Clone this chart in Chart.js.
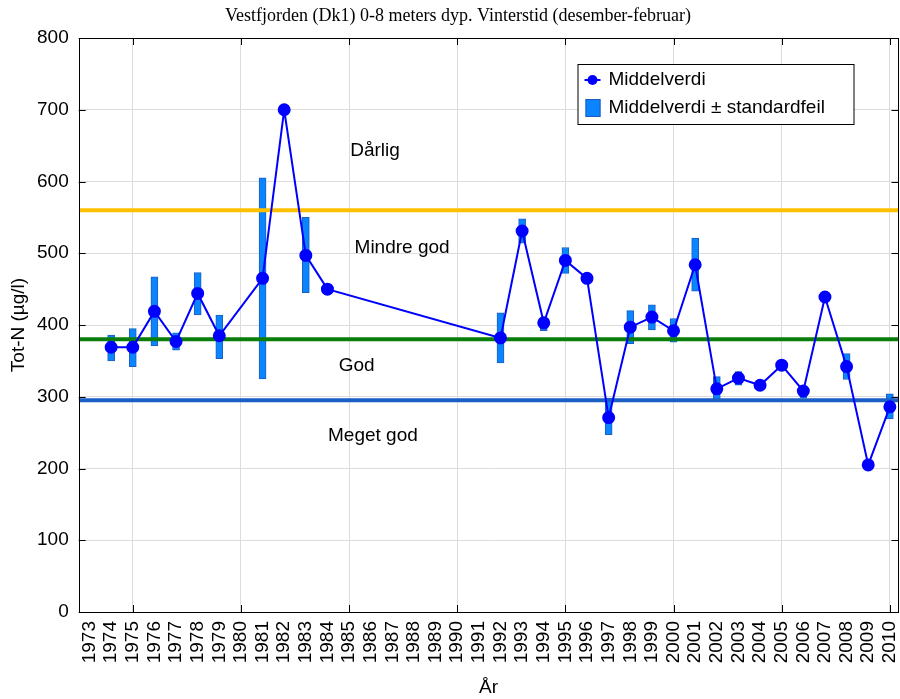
<!DOCTYPE html>
<html lang="no">
<head>
    <meta charset="UTF-8" />
    <title>Vestfjorden Tot-N</title>
    <script src="https://cdn.jsdelivr.net/npm/chart.js"></script>
    <style>
        body { margin: 0; padding: 0; background: #fff; overflow: hidden; }
        #wrap { width: 900px; height: 699px; overflow: hidden; }
    </style>
</head>
<body>
    <!-- lerretet er litt bredere enn vinduet: Chart.js holder av plass til siste årstall til høyre -->
    <div id="wrap"><canvas id="totN" width="906" height="699"></canvas></div>

    <script>
        // Vinterverdier (desember-februar) for Tot-N, Vestfjorden Dk1, 0-8 m
        const years   = [1974, 1975, 1976, 1977, 1978, 1979, 1981, 1982, 1983, 1984,
                         1992, 1993, 1994, 1995, 1996, 1997, 1998, 1999, 2000, 2001,
                         2002, 2003, 2004, 2005, 2006, 2007, 2008, 2009, 2010];
        const means   = [369, 369, 419, 377, 444, 385, 465, 700, 497, 450,
                         382, 531, 403, 490, 465, 271, 397, 411, 392, 484,
                         311, 326, 316, 344, 308, 439, 342, 205, 286];
        const seLow   = [350, 342, 371, 365, 414, 353, 325, null, 445, null,
                         347, 514, 392, 472, null, 247, 374, 393, 376, 447,
                         294, 316, null, null, 298, null, 324, null, 269];
        const seHigh  = [386, 395, 467, 389, 473, 414, 605, null, 550, null,
                         417, 548, 410, 508, null, 298, 420, 428, 409, 521,
                         328, 335, null, null, 314, null, 360, null, 304];

        // Klassegrenser
        const limitNames  = ['Dårlig/Mindre god', 'Mindre god/God', 'God/Meget god'];
        const limitValues = [560, 380, 295];
        const limitColors = ['#ffc000', '#0a7d0a', '#1b5ec4'];

        // Tilstandsklasser, plassert i dataenheter (år, µg/l)
        const zoneNames = ['Dårlig', 'Mindre god', 'God', 'Meget god'];
        const zoneX     = [1986.2, 1987.45, 1985.35, 1986.1];
        const zoneY     = [643, 507, 343, 245];

        const yearTicks = [];
        for (let y = 1973; y <= 2010; y++) yearTicks.push(y);

        const xMin = 1972.5, xMax = 2010.4;
        const FONT = 'Liberation Sans, Arial, sans-serif';

        const errorBars = [];
        years.forEach((yr, i) => {
            if (seLow[i] !== null) errorBars.push({ x: yr, y: [seLow[i], seHigh[i]] });
        });

        const limitSets = limitValues.map((v, i) => ({
            type: 'line',
            label: limitNames[i],
            data: [{ x: xMin, y: v }, { x: xMax, y: v }],
            borderColor: limitColors[i],
            borderWidth: 4,
            pointRadius: 0,
            order: 2
        }));

        // tittel, ramme med innovervendte tick-streker, klassetekster og tegnforklaring
        const decorations = {
            id: 'decorations',
            afterDraw(chart) {
                const { ctx, chartArea: a, scales } = chart;
                const xs = scales.x, ys = scales.y;
                ctx.save();

                ctx.fillStyle = '#000';
                ctx.font = '18px "Liberation Serif", "Times New Roman", serif';
                ctx.textAlign = 'center';
                ctx.textBaseline = 'middle';
                ctx.fillText('Vestfjorden (Dk1) 0-8 meters dyp. Vinterstid (desember-februar)', 458, 16);

                ctx.strokeStyle = '#000';
                ctx.lineWidth = 1;
                ctx.strokeRect(Math.round(a.left) + 0.5, Math.round(a.top) + 0.5,
                               Math.round(a.right - a.left) - 1, Math.round(a.bottom - a.top));
                ctx.beginPath();
                yearTicks.filter(v => v % 5 === 0).forEach(v => {
                    const px = Math.round(xs.getPixelForValue(v)) + 0.5;
                    ctx.moveTo(px, a.top); ctx.lineTo(px, a.top + 7);
                    ctx.moveTo(px, a.bottom); ctx.lineTo(px, a.bottom - 7);
                });
                for (let v = 0; v <= 800; v += 100) {
                    const py = Math.round(ys.getPixelForValue(v)) + 0.5;
                    ctx.moveTo(a.left, py); ctx.lineTo(a.left + 7, py);
                    ctx.moveTo(a.right, py); ctx.lineTo(a.right - 7, py);
                }
                ctx.stroke();

                ctx.font = '19px ' + FONT;
                zoneNames.forEach((name, i) => {
                    ctx.fillText(name, xs.getPixelForValue(zoneX[i]), ys.getPixelForValue(zoneY[i]));
                });

                // tegnforklaring
                const lx = a.right - 321, ly = a.top + 26;
                ctx.fillStyle = '#fff';
                ctx.fillRect(lx, ly, 276, 60);
                ctx.strokeStyle = '#000';
                ctx.strokeRect(lx + 0.5, ly + 0.5, 276, 60);

                ctx.strokeStyle = '#0000ff';
                ctx.lineWidth = 2;
                ctx.beginPath();
                ctx.moveTo(lx + 7, ly + 16); ctx.lineTo(lx + 23, ly + 16);
                ctx.stroke();
                ctx.fillStyle = '#0000ff';
                ctx.beginPath();
                ctx.arc(lx + 15, ly + 16, 5, 0, Math.PI * 2);
                ctx.fill();

                ctx.fillStyle = '#0a84ff';
                ctx.fillRect(lx + 8, ly + 35, 15, 18);
                ctx.strokeStyle = '#1d5fbf';
                ctx.lineWidth = 1;
                ctx.strokeRect(lx + 8.5, ly + 35.5, 14, 17);

                ctx.fillStyle = '#000';
                ctx.textAlign = 'left';
                ctx.fillText(chart.data.datasets[0].label, lx + 31, ly + 16);
                ctx.fillText(chart.data.datasets[1].label, lx + 31, ly + 44);
                ctx.restore();
            }
        };

        new Chart(document.getElementById('totN').getContext('2d'), {
            data: {
                datasets: [
                    {
                        type: 'line',
                        label: 'Middelverdi',
                        data: years.map((yr, i) => ({ x: yr, y: means[i] })),
                        borderColor: '#0000ff',
                        backgroundColor: '#0000ff',
                        borderWidth: 2,
                        pointRadius: 5.5,
                        pointHoverRadius: 5.5,
                        tension: 0,
                        order: 1
                    },
                    {
                        type: 'bar',
                        label: 'Middelverdi ± standardfeil',
                        data: errorBars,
                        backgroundColor: '#0a84ff',
                        borderColor: '#1d5fbf',
                        borderWidth: 1,
                        borderSkipped: false,
                        barThickness: 7,
                        order: 3
                    },
                    ...limitSets
                ]
            },
            options: {
                responsive: false,
                animation: false,
                events: [],
                layout: { padding: { top: 38, right: 2, left: 0, bottom: 0 } },
                plugins: {
                    legend: { display: false },
                    tooltip: { enabled: false }
                },
                scales: {
                    x: {
                        type: 'linear',
                        offset: false,
                        min: xMin,
                        max: xMax,
                        afterFit: s => { s.height = 87; s.paddingLeft = 0; s.paddingRight = 0; },
                        afterBuildTicks: s => { s.ticks = yearTicks.map(v => ({ value: v })); },
                        grid: {
                            offset: false,
                            drawTicks: false,
                            color: c => (c.tick && c.tick.value % 5 === 0) ? '#dcdcdc' : 'rgba(0,0,0,0)'
                        },
                        border: { display: false },
                        ticks: {
                            autoSkip: false,
                            minRotation: 90,
                            maxRotation: 90,
                            padding: 9,
                            color: '#000',
                            font: { family: FONT, size: 19 },
                            callback: v => String(v)
                        },
                        title: {
                            display: true,
                            text: 'År',
                            color: '#000',
                            font: { family: FONT, size: 19 },
                            padding: { top: 0, bottom: 0 }
                        }
                    },
                    y: {
                        min: 0,
                        max: 800,
                        afterFit: s => { s.width = 78.7; s.paddingTop = 0; s.paddingBottom = 0; },
                        grid: { drawTicks: false, color: '#dcdcdc' },
                        border: { display: false },
                        ticks: {
                            stepSize: 100,
                            padding: 10,
                            color: '#000',
                            font: { family: FONT, size: 19 }
                        },
                        title: {
                            display: true,
                            text: 'Tot-N (µg/l)',
                            color: '#000',
                            font: { family: FONT, size: 19 },
                            padding: { top: 7, bottom: 0 }
                        }
                    }
                }
            },
            plugins: [decorations]
        });
    </script>
</body>
</html>
